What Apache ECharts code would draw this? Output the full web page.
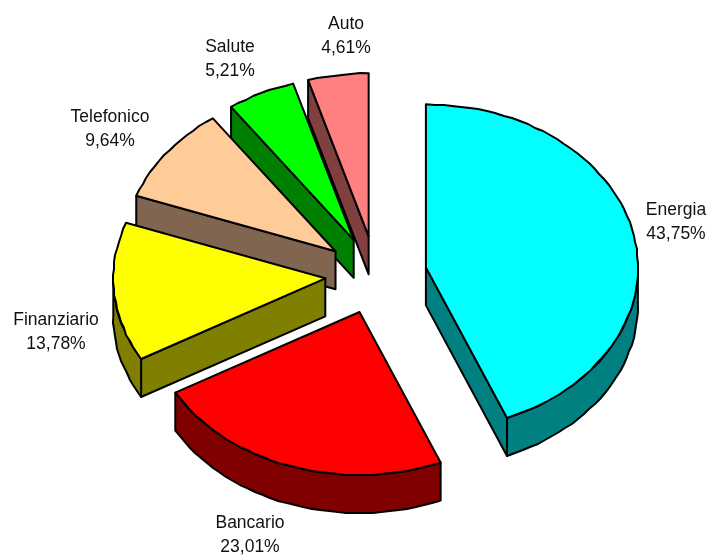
<!DOCTYPE html>
<html>
<head>
<meta charset="utf-8">
<script src="https://cdn.jsdelivr.net/npm/echarts@6/dist/echarts.min.js"></script>
<style>
html, body { margin: 0; background: #fff; }
#chart { width: 712px; height: 556px; }
</style>
</head>
<body>
<div id="chart"></div>
<script>
// values as printed on the labels
var categories = ['Energia', 'Bancario', 'Finanziario', 'Telefonico', 'Salute', 'Auto']
var values = [43.75, 23.01, 13.78, 9.64, 5.21, 4.61]

// colours, top face and side wall
var topColors = ['#00ffff', '#ff0000', '#ffff00', '#ffcc99', '#00ff00', '#ff8080']
var sideColors = ['#008080', '#800000', '#808000', '#806650', '#008000', '#804040']

// label centres in pixels
var labelX = [676, 250, 56, 110, 230, 346]
var labelY = [222, 535, 332, 129, 59, 36]

// pie layout
var cx = 376, cy = 275, rx = 212, ry = 163
var explode = 0.24, depth = 38, grid = 1

var total = values.reduce(function (a, b) { return a + b }, 0)

function rad(pct) { return pct / total * 2 * Math.PI }

function snap(v) { return Math.round(v / grid) * grid }

// outer edge of the ellipse, snapped to whole pixels so it wobbles a bit like the old metafile
function arc(ox, oy, from, to, dy) {
    var pts = []
    var n = Math.max(2, Math.ceil((to - from) * 24))
    for (var i = 0; i <= n; i++) {
        var t = from + (to - from) * i / n
        var x = ox + rx * Math.sin(t), y = oy - ry * Math.cos(t) + dy
        if (i > 0 && i < n) { x = snap(x); y = snap(y) }
        pts.push([x, y])
    }
    return pts
}

function poly(points, fill) {
    return {
        type: 'polygon',
        shape: {points: points},
        style: {fill: fill, stroke: '#000', lineWidth: 2, lineJoin: 'round'}
    }
}

function wall(ox, oy, t, fill) {
    var ex = ox + rx * Math.sin(t), ey = oy - ry * Math.cos(t)
    return poly([[ox, oy], [ex, ey], [ex, ey + depth], [ox, oy + depth]], fill)
}

function renderSlice(params, api) {
    var i = api.value(0)
    var before = 0
    for (var k = 0; k < i; k++) before += values[k]
    var from = rad(before), to = rad(before + values[i])
    var mid = (from + to) / 2
    var ox = cx + explode * rx * Math.sin(mid)
    var oy = cy - explode * ry * Math.cos(mid)
    var kids = []

    // only the walls that face the viewer
    if (Math.sin(from) < -1e-6) kids.push(wall(ox, oy, from, sideColors[i]))
    if (Math.sin(to) > 1e-6) kids.push(wall(ox, oy, to, sideColors[i]))
    var a = Math.max(from, Math.PI / 2), b = Math.min(to, Math.PI * 1.5)
    if (a < b) {
        var upper = arc(ox, oy, a, b, 0)
        var lower = arc(ox, oy, a, b, depth).reverse()
        kids.push(poly(upper.concat(lower), sideColors[i]))
    }
    kids.push(poly([[ox, oy]].concat(arc(ox, oy, from, to, 0)), topColors[i]))
    kids.push({
        type: 'text',
        style: {
            text: categories[i] + '\n' + values[i].toFixed(2).replace('.', ',') + '%',
            x: labelX[i],
            y: labelY[i],
            align: 'center',
            verticalAlign: 'middle',
            fontFamily: 'Liberation Sans',
            fontSize: 17.5,
            lineHeight: 24,
            fill: '#111'
        }
    })
    return {type: 'group', children: kids}
}

// painted back to front, smallest slice first
var order = categories.map(function (c, i) { return [i] }).reverse()

var chart = echarts.init(document.getElementById('chart'), null, {renderer: 'canvas'})
chart.setOption({
    backgroundColor: '#fff',
    animation: false,
    series: [{
        type: 'custom',
        coordinateSystem: 'none',
        renderItem: renderSlice,
        data: order
    }]
})
</script>
</body>
</html>
